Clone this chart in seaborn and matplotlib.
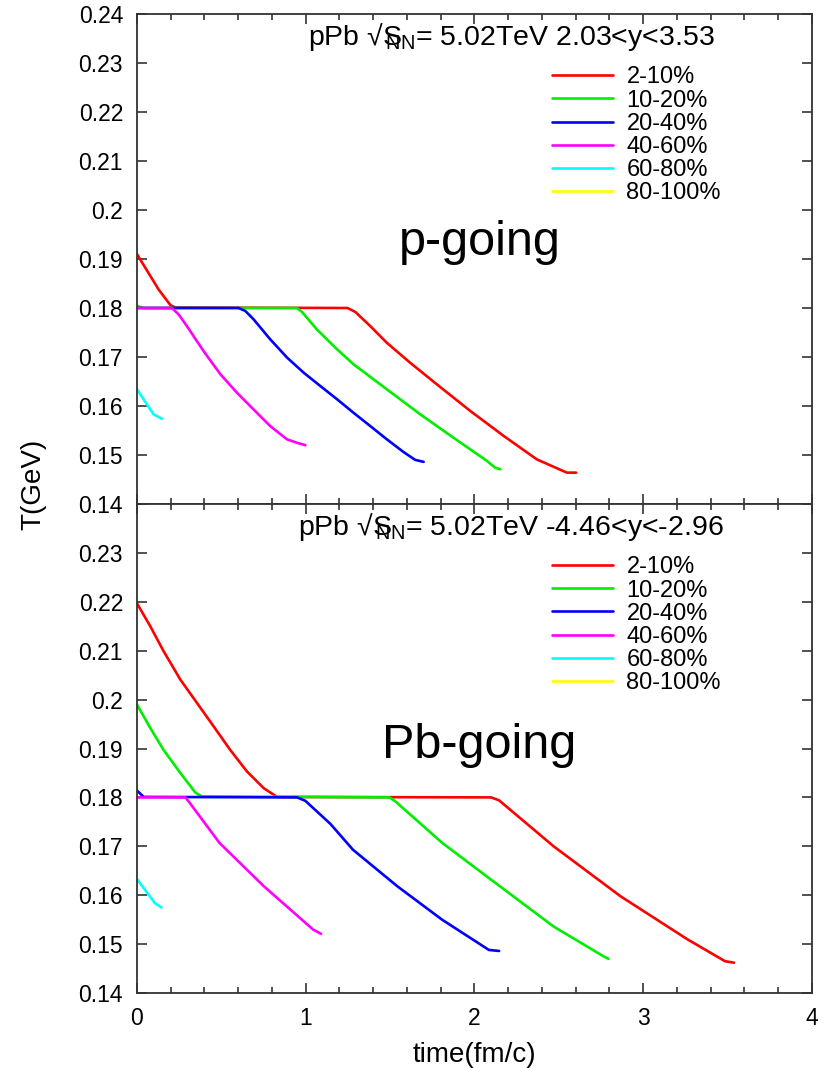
import numpy as np
import pandas as pd
import matplotlib
matplotlib.use("Agg")
import matplotlib.pyplot as plt
from matplotlib.lines import Line2D
from matplotlib.ticker import AutoMinorLocator, FixedLocator
import seaborn as sns

# ---------------- data ----------------
centralities = ["2-10%", "10-20%", "20-40%", "40-60%", "60-80%", "80-100%"]
colors = ["#ff0000", "#00ee00", "#0000ff", "#ff00ff", "#00ffff", "#ffff00"]

# p-going (2.03<y<3.53)
p_red_t = [0, 0.128, 0.198, 0.227, 1.248, 1.294, 1.383, 1.481, 1.620, 1.778, 1.975, 2.173,
           2.370, 2.528, 2.548, 2.603]
p_red_T = [0.1910, 0.1838, 0.1806, 0.1801, 0.1800, 0.1792, 0.1763, 0.1729, 0.1688, 0.1644,
           0.1590, 0.1539, 0.1491, 0.1467, 0.1464, 0.1464]
p_green_t = [0, 0.04, 0.948, 0.978, 1.067, 1.185, 1.284, 1.481, 1.679, 1.877, 2.074, 2.123, 2.153]
p_green_T = [0.1804, 0.1800, 0.1800, 0.1792, 0.1756, 0.1716, 0.1685, 0.1634, 0.1583, 0.1535,
             0.1488, 0.1474, 0.1471]
p_blue_t = [0, 0.602, 0.642, 0.691, 0.790, 0.889, 0.988, 1.086, 1.185, 1.284, 1.383, 1.481,
            1.580, 1.649, 1.699]
p_blue_T = [0.1800, 0.1800, 0.1794, 0.1777, 0.1736, 0.1699, 0.1668, 0.1641, 0.1614, 0.1586,
            0.1559, 0.1532, 0.1506, 0.1490, 0.1486]
p_mag_t = [0, 0.207, 0.247, 0.296, 0.395, 0.494, 0.593, 0.691, 0.790, 0.889, 0.948, 0.998]
p_mag_T = [0.1800, 0.1800, 0.1787, 0.1763, 0.1712, 0.1665, 0.1627, 0.1593, 0.1559, 0.1532,
           0.1525, 0.1520]
p_cyan_t = [0, 0.099, 0.148]
p_cyan_T = [0.1634, 0.1583, 0.1574]
p_yellow_t = []
p_yellow_T = []

# Pb-going (-4.46<y<-2.96)
b_red_t = [0, 0.079, 0.158, 0.257, 0.356, 0.455, 0.553, 0.652, 0.751, 0.83,
           2.099, 2.146, 2.469, 2.865, 3.261, 3.485, 3.538]
b_red_T = [0.2197, 0.2150, 0.2099, 0.2041, 0.1993, 0.1945, 0.1897, 0.1853, 0.1819, 0.1801,
           0.1800, 0.1794, 0.1700, 0.1598, 0.1510, 0.1465, 0.1462]
b_green_t = [0, 0.079, 0.158, 0.257, 0.346, 0.385, 1.497, 1.531, 1.809, 2.152, 2.469, 2.760, 2.794]
b_green_T = [0.1990, 0.1942, 0.1897, 0.1850, 0.1810, 0.1802, 0.1800, 0.1792, 0.1707, 0.1618,
             0.1536, 0.1476, 0.1470]
b_blue_t = [0, 0.04, 0.949, 0.998, 1.146, 1.28, 1.544, 1.808, 2.086, 2.146]
b_blue_T = [0.1814, 0.1801, 0.1800, 0.1793, 0.1746, 0.1693, 0.1618, 0.1550, 0.1488, 0.1486]
b_mag_t = [0, 0.287, 0.306, 0.489, 0.753, 1.043, 1.091]
b_mag_T = [0.1800, 0.1800, 0.1792, 0.1707, 0.1618, 0.1530, 0.1521]
b_cyan_t = [0, 0.106, 0.145]
b_cyan_T = [0.1633, 0.1584, 0.1575]
b_yellow_t = []
b_yellow_T = []

x_ticks = [0, 1, 2, 3, 4]
y_ticks = [0.14, 0.15, 0.16, 0.17, 0.18, 0.19, 0.2, 0.21, 0.22, 0.23, 0.24]
y_tick_labels = ["0.14", "0.15", "0.16", "0.17", "0.18", "0.19", "0.2", "0.21", "0.22", "0.23", "0.24"]

panels = [
    dict(name="p-going", rap="2.03<y<3.53",
         series=[(p_red_t, p_red_T), (p_green_t, p_green_T), (p_blue_t, p_blue_T),
                 (p_mag_t, p_mag_T), (p_cyan_t, p_cyan_T), (p_yellow_t, p_yellow_T)],
         label_xy=(2.03, 0.1933)),
    dict(name="Pb-going", rap="-4.46<y<-2.96",
         series=[(b_red_t, b_red_T), (b_green_t, b_green_T), (b_blue_t, b_blue_T),
                 (b_mag_t, b_mag_T), (b_cyan_t, b_cyan_T), (b_yellow_t, b_yellow_T)],
         label_xy=(2.03, 0.1907)),
]

# ---------------- style ----------------
sns.set_theme(style="ticks")
plt.rcParams["font.family"] = ["Liberation Sans", "DejaVu Sans"]
plt.rcParams["mathtext.fontset"] = "custom"
plt.rcParams["mathtext.rm"] = "Liberation Sans"
plt.rcParams["mathtext.it"] = "Liberation Sans:italic"
plt.rcParams["axes.edgecolor"] = "#333333"
plt.rcParams["axes.linewidth"] = 1.3
plt.rcParams["text.color"] = "black"
plt.rcParams["axes.labelcolor"] = "black"

fig = plt.figure(figsize=(8.35, 10.68), dpi=100)
ax_top = fig.add_axes([0.164, 0.52809, 0.8084, 0.4588])
ax_bot = fig.add_axes([0.164, 0.07022, 0.8084, 0.45787])
axes = [ax_top, ax_bot]

palette = dict(zip(centralities, colors))

for ax, panel in zip(axes, panels):
    rows = []
    for cen, (tt, TT) in zip(centralities, panel["series"]):
        for a, b in zip(tt, TT):
            rows.append((cen, a, b))
    df = pd.DataFrame(rows, columns=["centrality", "time", "T"])
    sns.lineplot(data=df, x="time", y="T", hue="centrality",
                 hue_order=[c for c in centralities if c in set(df["centrality"])],
                 palette=palette, estimator=None, sort=False, lw=1.9,
                 legend=False, ax=ax)
    ax.set_xlim(0, 4)
    ax.set_ylim(0.14, 0.24)
    ax.xaxis.set_major_locator(FixedLocator(x_ticks))
    ax.xaxis.set_minor_locator(AutoMinorLocator(5))
    ax.yaxis.set_major_locator(FixedLocator(y_ticks))
    ax.tick_params(which="both", direction="in", top=True, right=True,
                   colors="#333333", labelcolor="black", width=1.2)
    ax.tick_params(which="major", length=7)
    ax.tick_params(which="minor", length=4)
    ax.tick_params(axis="y", labelsize=16.5, pad=10)
    ax.tick_params(axis="x", labelsize=16.5, pad=10)
    ax.set_xlabel("")
    ax.set_ylabel("")

    ax.text(2.216, 0.2353,
            "pPb \u221aS$\\!\\!\\!\\!_{\\rm NN}$= 5.02TeV " + panel["rap"],
            fontsize=20.5, ha="center", va="center", color="black")
    ax.text(panel["label_xy"][0], panel["label_xy"][1], panel["name"],
            fontsize=35, ha="center", va="center", color="black")

    handles = [Line2D([0], [0], color=c, lw=1.9) for c in colors]
    leg = ax.legend(handles, centralities, loc="upper left",
                    bbox_to_anchor=(0.615, 0.893), frameon=False, fontsize=17,
                    handlelength=2.6, handletextpad=0.55, labelspacing=0.05,
                    borderpad=0, borderaxespad=0)
    for txt in leg.get_texts():
        txt.set_color("black")

ax_top.set_yticklabels(y_tick_labels)
ax_top.tick_params(axis="x", labelbottom=False)
ax_bot.set_yticklabels(y_tick_labels[:-1] + [""])
ax_bot.set_xticklabels([str(v) for v in x_ticks])

fig.text(0.568, 1 - 1055 / 1068, "time(fm/c)", fontsize=20, ha="center", va="center")
fig.text(0.040, 1 - 484 / 1068, "T(GeV)", fontsize=20, ha="center", va="center",
         rotation=90)

fig.savefig("out.png", dpi=100)
